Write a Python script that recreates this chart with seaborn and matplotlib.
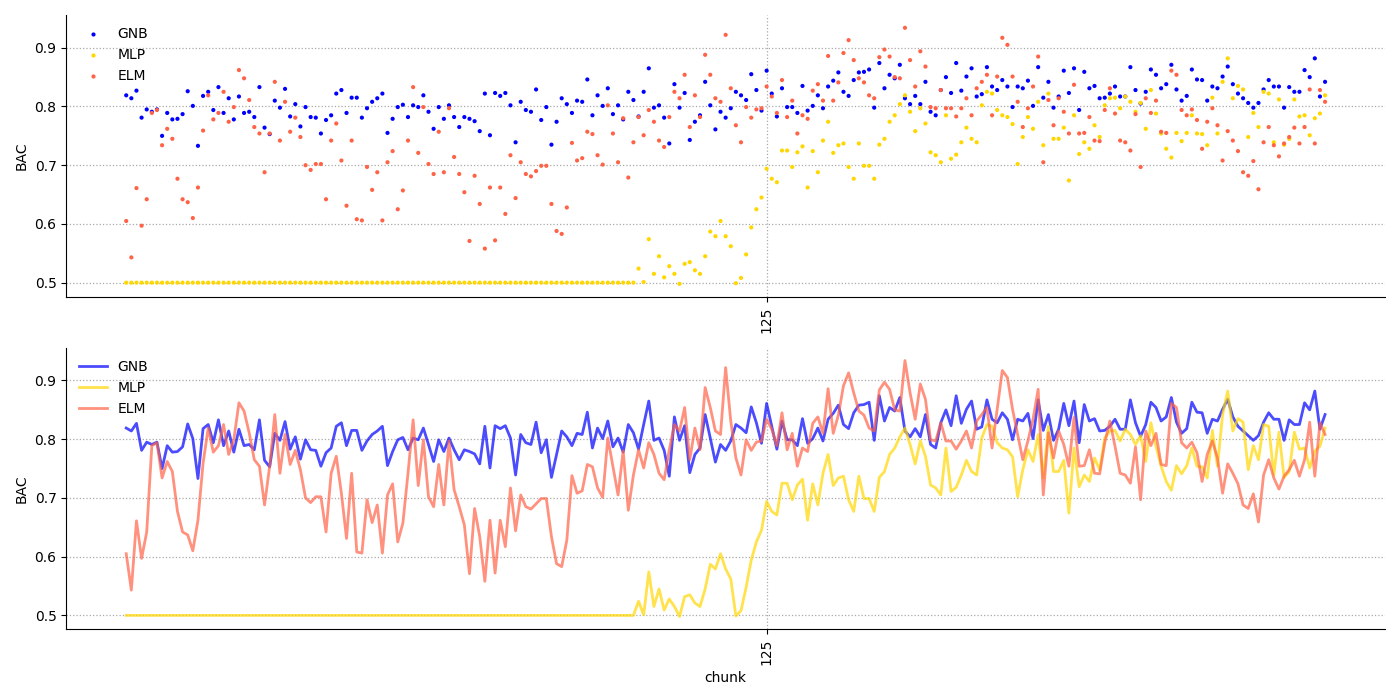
import pandas as pd
import matplotlib
matplotlib.use("Agg")
import matplotlib.pyplot as plt
import seaborn as sns

# BAC per chunk
gnb = [0.819, 0.814, 0.827, 0.781, 0.795, 0.791, 0.795, 0.750, 0.789, 0.778,
       0.779, 0.787, 0.826, 0.801, 0.733, 0.818, 0.825, 0.794, 0.833, 0.789,
       0.814, 0.778, 0.817, 0.789, 0.791, 0.782, 0.833, 0.764, 0.753, 0.810,
       0.798, 0.830, 0.783, 0.804, 0.766, 0.799, 0.782, 0.781, 0.754, 0.777,
       0.785, 0.822, 0.828, 0.789, 0.815, 0.815, 0.781, 0.797, 0.808, 0.814,
       0.822, 0.755, 0.779, 0.799, 0.803, 0.782, 0.802, 0.799, 0.819, 0.791,
       0.762, 0.799, 0.779, 0.802, 0.782, 0.765, 0.782, 0.779, 0.775, 0.758,
       0.822, 0.751, 0.823, 0.818, 0.823, 0.802, 0.739, 0.808, 0.794, 0.791,
       0.829, 0.777, 0.799, 0.735, 0.774, 0.814, 0.804, 0.789, 0.810, 0.808,
       0.846, 0.785, 0.819, 0.801, 0.831, 0.787, 0.802, 0.778, 0.825, 0.811,
       0.783, 0.825, 0.865, 0.798, 0.802, 0.781, 0.737, 0.838, 0.798, 0.823,
       0.743, 0.774, 0.785, 0.842, 0.802, 0.761, 0.791, 0.781, 0.797, 0.825,
       0.819, 0.811, 0.855, 0.828, 0.793, 0.861, 0.822, 0.783, 0.831, 0.799,
       0.799, 0.789, 0.835, 0.793, 0.801, 0.819, 0.797, 0.834, 0.844, 0.858,
       0.825, 0.818, 0.845, 0.858, 0.859, 0.863, 0.798, 0.874, 0.831, 0.854,
       0.848, 0.871, 0.814, 0.804, 0.818, 0.804, 0.842, 0.791, 0.785, 0.828,
       0.850, 0.823, 0.874, 0.827, 0.851, 0.865, 0.817, 0.821, 0.867, 0.834,
       0.828, 0.845, 0.834, 0.799, 0.834, 0.831, 0.844, 0.801, 0.867, 0.815,
       0.842, 0.798, 0.817, 0.861, 0.823, 0.865, 0.794, 0.859, 0.831, 0.835,
       0.814, 0.815, 0.822, 0.834, 0.817, 0.817, 0.867, 0.828, 0.805, 0.825,
       0.863, 0.854, 0.831, 0.838, 0.871, 0.829, 0.810, 0.818, 0.863, 0.846,
       0.845, 0.810, 0.834, 0.831, 0.851, 0.868, 0.838, 0.822, 0.814, 0.806,
       0.798, 0.806, 0.829, 0.845, 0.834, 0.834, 0.798, 0.833, 0.825, 0.825,
       0.862, 0.850, 0.882, 0.817, 0.842]

mlp = [0.500, 0.500, 0.500, 0.500, 0.500, 0.500, 0.500, 0.500, 0.500, 0.500,
       0.500, 0.500, 0.500, 0.500, 0.500, 0.500, 0.500, 0.500, 0.500, 0.500,
       0.500, 0.500, 0.500, 0.500, 0.500, 0.500, 0.500, 0.500, 0.500, 0.500,
       0.500, 0.500, 0.500, 0.500, 0.500, 0.500, 0.500, 0.500, 0.500, 0.500,
       0.500, 0.500, 0.500, 0.500, 0.500, 0.500, 0.500, 0.500, 0.500, 0.500,
       0.500, 0.500, 0.500, 0.500, 0.500, 0.500, 0.500, 0.500, 0.500, 0.500,
       0.500, 0.500, 0.500, 0.500, 0.500, 0.500, 0.500, 0.500, 0.500, 0.500,
       0.500, 0.500, 0.500, 0.500, 0.500, 0.500, 0.500, 0.500, 0.500, 0.500,
       0.500, 0.500, 0.500, 0.500, 0.500, 0.500, 0.500, 0.500, 0.500, 0.500,
       0.500, 0.500, 0.500, 0.500, 0.500, 0.500, 0.500, 0.500, 0.500, 0.500,
       0.524, 0.501, 0.574, 0.515, 0.545, 0.509, 0.528, 0.515, 0.498, 0.532,
       0.535, 0.521, 0.515, 0.545, 0.587, 0.579, 0.605, 0.579, 0.562, 0.499,
       0.508, 0.548, 0.594, 0.625, 0.645, 0.694, 0.677, 0.671, 0.725, 0.725,
       0.697, 0.722, 0.732, 0.662, 0.724, 0.688, 0.742, 0.774, 0.721, 0.734,
       0.737, 0.697, 0.677, 0.737, 0.699, 0.699, 0.677, 0.735, 0.745, 0.774,
       0.785, 0.804, 0.819, 0.791, 0.758, 0.797, 0.771, 0.722, 0.717, 0.705,
       0.785, 0.711, 0.718, 0.739, 0.764, 0.745, 0.739, 0.802, 0.825, 0.822,
       0.794, 0.785, 0.782, 0.770, 0.702, 0.748, 0.782, 0.762, 0.808, 0.734,
       0.822, 0.745, 0.745, 0.764, 0.674, 0.785, 0.719, 0.739, 0.728, 0.768,
       0.748, 0.802, 0.814, 0.815, 0.797, 0.817, 0.808, 0.791, 0.806, 0.762,
       0.828, 0.788, 0.754, 0.728, 0.713, 0.755, 0.741, 0.755, 0.785, 0.754,
       0.753, 0.734, 0.815, 0.754, 0.842, 0.882, 0.814, 0.835, 0.829, 0.748,
       0.789, 0.765, 0.825, 0.822, 0.739, 0.812, 0.735, 0.745, 0.812, 0.783,
       0.785, 0.751, 0.780, 0.788, 0.819]

elm = [0.605, 0.543, 0.661, 0.597, 0.642, 0.789, 0.794, 0.734, 0.762, 0.745,
       0.677, 0.642, 0.637, 0.610, 0.662, 0.759, 0.819, 0.778, 0.789, 0.825,
       0.774, 0.799, 0.862, 0.848, 0.811, 0.765, 0.754, 0.688, 0.754, 0.842,
       0.742, 0.808, 0.757, 0.781, 0.748, 0.700, 0.692, 0.702, 0.702, 0.642,
       0.742, 0.771, 0.708, 0.631, 0.742, 0.608, 0.606, 0.697, 0.658, 0.688,
       0.606, 0.705, 0.724, 0.625, 0.657, 0.742, 0.833, 0.721, 0.799, 0.702,
       0.685, 0.757, 0.688, 0.797, 0.714, 0.685, 0.654, 0.571, 0.682, 0.634,
       0.558, 0.662, 0.572, 0.662, 0.617, 0.717, 0.644, 0.705, 0.685, 0.681,
       0.690, 0.699, 0.699, 0.634, 0.588, 0.583, 0.628, 0.738, 0.708, 0.712,
       0.757, 0.753, 0.717, 0.701, 0.802, 0.754, 0.705, 0.780, 0.679, 0.739,
       0.782, 0.751, 0.794, 0.774, 0.742, 0.731, 0.782, 0.825, 0.814, 0.854,
       0.765, 0.819, 0.782, 0.888, 0.854, 0.814, 0.808, 0.922, 0.831, 0.768,
       0.739, 0.799, 0.781, 0.795, 0.797, 0.834, 0.817, 0.789, 0.845, 0.782,
       0.810, 0.754, 0.785, 0.779, 0.827, 0.838, 0.810, 0.886, 0.810, 0.841,
       0.891, 0.913, 0.879, 0.848, 0.841, 0.819, 0.814, 0.884, 0.897, 0.885,
       0.850, 0.848, 0.934, 0.879, 0.834, 0.894, 0.868, 0.799, 0.797, 0.828,
       0.797, 0.797, 0.783, 0.797, 0.814, 0.785, 0.831, 0.842, 0.854, 0.785,
       0.851, 0.917, 0.905, 0.851, 0.808, 0.765, 0.797, 0.834, 0.885, 0.705,
       0.811, 0.768, 0.814, 0.791, 0.754, 0.837, 0.754, 0.755, 0.782, 0.742,
       0.741, 0.794, 0.831, 0.788, 0.742, 0.739, 0.725, 0.787, 0.697, 0.814,
       0.789, 0.810, 0.757, 0.755, 0.861, 0.854, 0.794, 0.785, 0.795, 0.777,
       0.728, 0.774, 0.797, 0.768, 0.708, 0.758, 0.742, 0.724, 0.688, 0.682,
       0.707, 0.659, 0.739, 0.765, 0.734, 0.715, 0.737, 0.748, 0.764, 0.737,
       0.765, 0.829, 0.737, 0.828, 0.808]

models = ["GNB", "MLP", "ELM"]
colors = {"GNB": "blue", "MLP": "gold", "ELM": "tomato"}

chunks = list(range(len(gnb)))
df = pd.DataFrame({"chunk": chunks, "GNB": gnb, "MLP": mlp, "ELM": elm})
df = df.melt(id_vars="chunk", value_vars=models, var_name="model", value_name="BAC")

fig, axes = plt.subplots(2, 1, figsize=(14, 7), dpi=100)

ax = axes[0]
sns.scatterplot(data=df, x="chunk", y="BAC", hue="model", hue_order=models,
                palette=colors, s=9, linewidth=0, ax=ax)
ax.set_xlabel("")

ax = axes[1]
sns.lineplot(data=df, x="chunk", y="BAC", hue="model", hue_order=models,
             palette=colors, linewidth=2, alpha=0.7, ax=ax)

for ax in axes:
    ax.set_xticks([125])
    ax.set_xticklabels(["125"], rotation=90)
    ax.set_yticks([0.5, 0.6, 0.7, 0.8, 0.9])
    ax.grid(True, linestyle=":", color="darkgray", linewidth=0.9)
    ax.set_axisbelow(True)
    sns.despine(ax=ax)
    ax.legend(title=None, frameon=False, loc="upper left")

plt.tight_layout()
plt.savefig("out.png")
